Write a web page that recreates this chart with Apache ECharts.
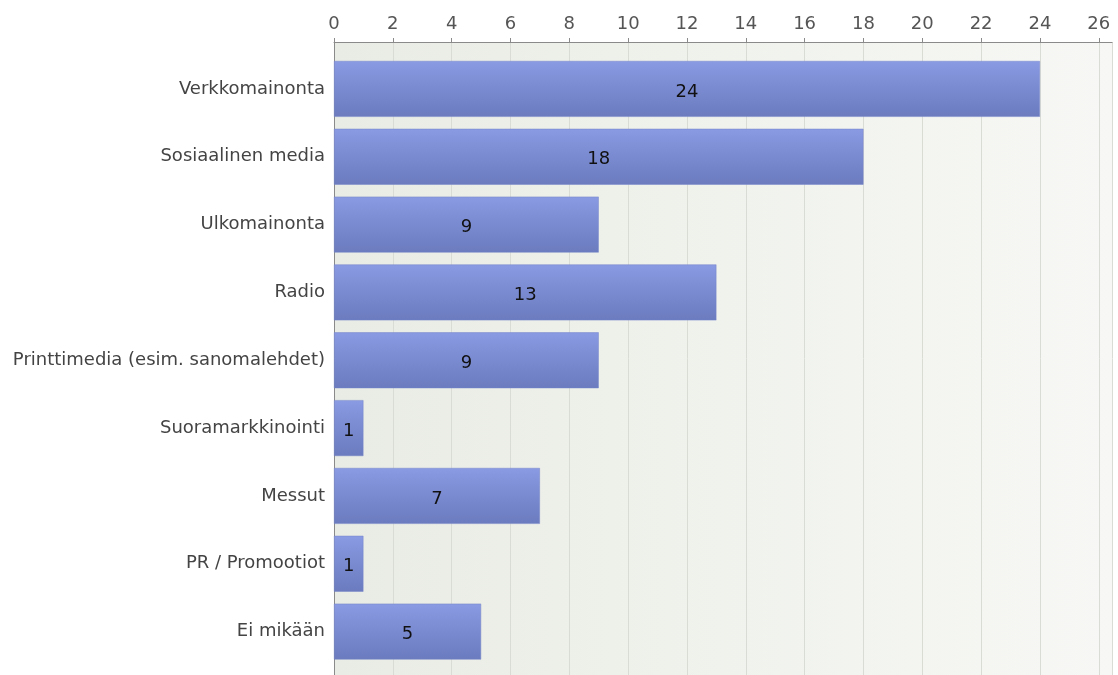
<!DOCTYPE html>
<html>
<head>
<meta charset="utf-8">
<script src="https://cdn.jsdelivr.net/npm/echarts@6/dist/echarts.min.js"></script>
<style>
html,body{margin:0;padding:0;background:#fff;}
#chart{width:1118px;height:675px;}
</style>
</head>
<body>
<div id="chart"></div>
<script>
var categories = ["Verkkomainonta","Sosiaalinen media","Ulkomainonta","Radio","Printtimedia (esim. sanomalehdet)","Suoramarkkinointi","Messut","PR / Promootiot","Ei mikään"];
var values = [24, 18, 9, 13, 9, 1, 7, 1, 5];
var axisMin = 0;
var axisMax = 26.45;
var axisInterval = 2;

var FONT = '"DejaVu Sans", Verdana, sans-serif';
var chart = echarts.init(document.getElementById('chart'), null, {renderer: 'canvas'});
chart.setOption({
  animation: false,
  backgroundColor: '#ffffff',
  grid: [
    {left: 334, right: 6, top: 42, bottom: 0, show: true, borderWidth: 0,
     backgroundColor: new echarts.graphic.LinearGradient(0, 0, 1, 0, [
       {offset: 0, color: '#e9ece4'}, {offset: 1, color: '#f7f8f5'}])},
    {left: 334, right: 6, top: 55, bottom: 9.5}
  ],
  xAxis: [
    {gridIndex: 0, type: 'value', position: 'top', min: axisMin, max: axisMax, interval: axisInterval,
     axisLine: {show: true, onZero: false, lineStyle: {color: '#8a8a8a', width: 1}},
     axisTick: {show: true, length: 4, lineStyle: {color: '#8a8a8a'}},
     axisLabel: {color: '#555555', fontSize: 18, fontFamily: FONT, margin: 9, showMaxLabel: false},
     splitLine: {show: true, lineStyle: {color: '#d9dcd5', width: 1}}},
    {gridIndex: 1, type: 'value', min: axisMin, max: axisMax, show: false}
  ],
  yAxis: [
    {gridIndex: 0, type: 'value', min: 0, max: 1,
     axisLine: {show: true, onZero: false, lineStyle: {color: '#8a8a8a'}},
     axisTick: {show: false}, axisLabel: {show: false}, splitLine: {show: false}},
    {gridIndex: 1, type: 'category', data: categories, inverse: true,
     axisLine: {show: false}, axisTick: {show: false}, splitLine: {show: false},
     axisLabel: {color: '#444444', fontSize: 18, fontFamily: FONT, margin: 9, padding: [12, 0, 0, 0]}}
  ],
  series: [{
    type: 'bar', xAxisIndex: 1, yAxisIndex: 1, data: values,
    barCategoryGap: '17.6%',
    itemStyle: {
      color: new echarts.graphic.LinearGradient(0, 0, 0, 1, [
        {offset: 0, color: '#8a9ae3'}, {offset: 1, color: '#6b7bbe'}]),
      borderColor: '#7585c8', borderWidth: 0.5
    },
    label: {show: true, position: 'inside', color: '#111111', fontSize: 18, fontFamily: FONT, offset: [0, 3]}
  }]
});
</script>
</body>
</html>
